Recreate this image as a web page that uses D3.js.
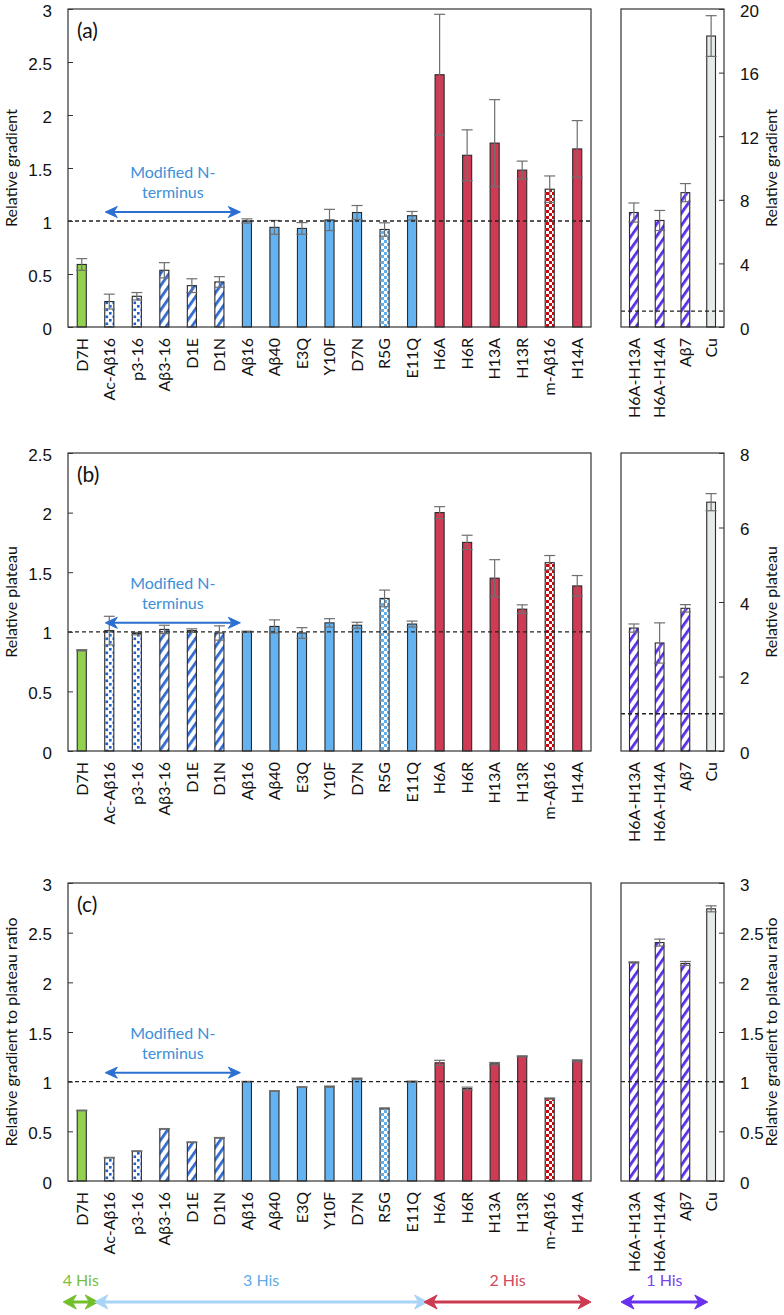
<!DOCTYPE html>
<html>
<head>
<meta charset="utf-8">
<script src="https://cdn.jsdelivr.net/npm/d3@7"></script>
<style>
  html, body { margin: 0; padding: 0; background: #fff; }
  svg { display: block; font-family: Lato, "Open Sans", sans-serif; }
</style>
</head>
<body>
<svg id="chart" width="784" height="1315"></svg>
<script>
// ---------------- DATA ----------------
const categories = ["D7H","Ac-Aβ16","p3-16","Aβ3-16","D1E","D1N","Aβ16","Aβ40","E3Q","Y10F","D7N","R5G","E11Q","H6A","H6R","H13A","H13R","m-Aβ16","H14A"];
const sideCategories = ["H6A-H13A","H6A-H14A","Aβ7","Cu"];

// (a) relative gradient
const gradientMain    = [0.59,0.24,0.29,0.535,0.39,0.425,1.00,0.94,0.93,1.01,1.08,0.92,1.05,2.38,1.62,1.735,1.48,1.30,1.68];
const gradientMainErr = [0.055,0.07,0.035,0.072,0.065,0.05,0.02,0.065,0.055,0.10,0.066,0.063,0.04,0.57,0.24,0.41,0.085,0.125,0.267];
const gradientSide    = [7.2,6.7,8.45,18.3];
const gradientSideErr = [0.6,0.63,0.57,1.28];

// (b) relative plateau
const plateauMain    = [0.845,1.01,0.985,1.02,1.01,0.99,1.00,1.045,0.99,1.075,1.055,1.28,1.065,2.00,1.75,1.45,1.19,1.58,1.385];
const plateauMainErr = [0.005,0.12,0.01,0.035,0.015,0.06,0.005,0.055,0.045,0.035,0.025,0.07,0.025,0.05,0.06,0.155,0.036,0.06,0.087];
const plateauSide    = [3.3,2.9,3.83,6.68];
const plateauSideErr = [0.11,0.54,0.1,0.23];

// (c) relative gradient to plateau ratio
const ratioMain    = [0.71,0.235,0.30,0.525,0.39,0.435,1.00,0.905,0.945,0.95,1.03,0.73,1.00,1.19,0.93,1.18,1.255,0.83,1.21];
const ratioMainErr = [0.003,0.003,0.003,0.003,0.003,0.003,0.003,0.003,0.003,0.006,0.006,0.006,0.006,0.025,0.015,0.013,0.005,0.006,0.01];
const ratioSide    = [2.2,2.4,2.19,2.74];
const ratioSideErr = [0.006,0.035,0.02,0.03];

const leftTicksA  = [0,0.5,1,1.5,2,2.5,3];
const rightTicksA = [0,4,8,12,16,20];
const leftTicksB  = [0,0.5,1,1.5,2,2.5];
const rightTicksB = [0,2,4,6,8];
const leftTicksC  = [0,0.5,1,1.5,2,2.5,3];
const rightTicksC = [0,0.5,1,1.5,2,2.5,3];

const panelLabels = ["(a)","(b)","(c)"];
const yTitles = ["Relative gradient","Relative plateau","Relative gradient to plateau ratio"];

const hisGroups = [
  {label:"4 His", from:"D7H", to:"D7H"},
  {label:"3 His", from:"Ac-Aβ16", to:"E11Q"},
  {label:"2 His", from:"H6A", to:"H14A"},
  {label:"1 His", from:"H6A-H13A", to:"Aβ7"}
];

// ---------------- STYLE ----------------
const C = {
  green:"#92d050", blue:"#65b2f0", red:"#cf3b54", grey:"#e6eaea",
  dotBlue:"#1f5fc8", stripeBlue:"#2f6ad0", checkBlue:"#5fb0f0",
  checkRed:"#c80a10", purple:"#5b2ee6"
};
const fillStyle = {
  "D7H":"green","Ac-Aβ16":"url(#dots)","p3-16":"url(#dots)","Aβ3-16":"url(#stripesBlue)","D1E":"url(#stripesBlue)","D1N":"url(#stripesBlue)",
  "Aβ16":"blue","Aβ40":"blue","E3Q":"blue","Y10F":"blue","D7N":"blue","R5G":"url(#checkBlue)","E11Q":"blue",
  "H6A":"red","H6R":"red","H13A":"red","H13R":"red","m-Aβ16":"url(#checkRed)","H14A":"red",
  "H6A-H13A":"url(#stripesPurple)","H6A-H14A":"url(#stripesPurple)","Aβ7":"url(#stripesPurple)","Cu":"grey"
};
function fillOf(name){ const f = fillStyle[name]; return C[f] || f; }

const svg = d3.select("#chart");
const defs = svg.append("defs");

(function(){
  const p = defs.append("pattern").attr("id","dots").attr("patternUnits","userSpaceOnUse").attr("width",7).attr("height",7);
  p.append("rect").attr("width",7).attr("height",7).attr("fill","#fff");
  p.append("rect").attr("x",0.5).attr("y",0.5).attr("width",2.6).attr("height",2.6).attr("fill",C.dotBlue);
  p.append("rect").attr("x",4).attr("y",4).attr("width",2.6).attr("height",2.6).attr("fill",C.dotBlue);
})();
function stripes(id,color){
  const p = defs.append("pattern").attr("id",id).attr("patternUnits","userSpaceOnUse")
    .attr("width",7).attr("height",7).attr("patternTransform","rotate(35)");
  p.append("rect").attr("width",7).attr("height",7).attr("fill","#fff");
  p.append("rect").attr("x",0).attr("width",2.8).attr("height",7).attr("fill",color);
}
stripes("stripesBlue",C.stripeBlue);
stripes("stripesPurple",C.purple);
function checker(id,color){
  const p = defs.append("pattern").attr("id",id).attr("patternUnits","userSpaceOnUse").attr("width",6).attr("height",6);
  p.append("rect").attr("width",6).attr("height",6).attr("fill","#fff");
  p.append("rect").attr("x",0).attr("y",0).attr("width",3).attr("height",3).attr("fill",color);
  p.append("rect").attr("x",3).attr("y",3).attr("width",3).attr("height",3).attr("fill",color);
}
checker("checkBlue",C.checkBlue);
checker("checkRed",C.checkRed);

// ---------------- LAYOUT ----------------
const mainX0 = 68, mainX1 = 591, sideX0 = 621, sideX1 = 724;
const panels = [
  {top:9,   bottom:327,  leftMax:3,   rightMax:20, leftTicks:leftTicksA, rightTicks:rightTicksA,
   main:gradientMain, mainErr:gradientMainErr, side:gradientSide, sideErr:gradientSideErr},
  {top:453, bottom:751,  leftMax:2.5, rightMax:8,  leftTicks:leftTicksB, rightTicks:rightTicksB,
   main:plateauMain, mainErr:plateauMainErr, side:plateauSide, sideErr:plateauSideErr},
  {top:883, bottom:1181, leftMax:3,   rightMax:3,  leftTicks:leftTicksC, rightTicks:rightTicksC,
   main:ratioMain, mainErr:ratioMainErr, side:ratioSide, sideErr:ratioSideErr}
];

const xMain = d3.scaleBand().domain(categories).range([mainX0,mainX1]).paddingInner(0.67).paddingOuter(0.335);
const xSide = d3.scaleBand().domain(sideCategories).range([sideX0,sideX1]).paddingInner(0.66).paddingOuter(0.33);

const FONT = 16;

function drawArrow(g, x0, x1, y, color, sw, hl, hw){
  g.append("line").attr("x1",x0+3).attr("x2",x1-3).attr("y1",y).attr("y2",y).attr("stroke",color).attr("stroke-width",sw);
  g.append("path").attr("d",`M${x0},${y} L${x0+hl},${y-hw} L${x0+hl*0.7},${y} L${x0+hl},${y+hw} Z`).attr("fill",color).attr("stroke",color).attr("stroke-width",1).attr("stroke-linejoin","round");
  g.append("path").attr("d",`M${x1},${y} L${x1-hl},${y-hw} L${x1-hl*0.7},${y} L${x1-hl},${y+hw} Z`).attr("fill",color).attr("stroke",color).attr("stroke-width",1).attr("stroke-linejoin","round");
}

panels.forEach((P,pi)=>{
  const g = svg.append("g");
  const yL = d3.scaleLinear().domain([0,P.leftMax]).range([P.bottom,P.top]);
  const yR = d3.scaleLinear().domain([0,P.rightMax]).range([P.bottom,P.top]);

  function drawBars(cats, vals, errs, x, y){
    const gb = g.append("g");
    cats.forEach((c,i)=>{
      gb.append("rect")
        .attr("x",x(c)).attr("width",x.bandwidth())
        .attr("y",y(vals[i])).attr("height",y(0)-y(vals[i]))
        .attr("fill",fillOf(c)).attr("stroke","#2a2a2a").attr("stroke-width",1.1);
    });
    cats.forEach((c,i)=>{
      const cx = x(c)+x.bandwidth()/2, hw = 5.5;
      const lo = y(vals[i]-errs[i]), hi = y(vals[i]+errs[i]);
      gb.append("line").attr("x1",cx).attr("x2",cx).attr("y1",lo).attr("y2",hi).attr("stroke","#6f6f6f").attr("stroke-width",1.2);
      [lo,hi].forEach(yy=>gb.append("line").attr("x1",cx-hw).attr("x2",cx+hw).attr("y1",yy).attr("y2",yy).attr("stroke","#6f6f6f").attr("stroke-width",1.2));
    });
  }
  drawBars(categories,P.main,P.mainErr,xMain,yL);
  drawBars(sideCategories,P.side,P.sideErr,xSide,yR);

  g.append("line").attr("x1",mainX0).attr("x2",mainX1).attr("y1",yL(1)).attr("y2",yL(1))
    .attr("stroke","#222").attr("stroke-width",1.3).attr("stroke-dasharray","4,3");
  g.append("line").attr("x1",sideX0).attr("x2",sideX1).attr("y1",yR(1)).attr("y2",yR(1))
    .attr("stroke","#222").attr("stroke-width",1.3).attr("stroke-dasharray","4,3");

  g.append("rect").attr("x",mainX0).attr("y",P.top).attr("width",mainX1-mainX0).attr("height",P.bottom-P.top)
    .attr("fill","none").attr("stroke","#333").attr("stroke-width",1.2);
  g.append("rect").attr("x",sideX0).attr("y",P.top).attr("width",sideX1-sideX0).attr("height",P.bottom-P.top)
    .attr("fill","none").attr("stroke","#333").attr("stroke-width",1.2);

  const axL = g.append("g").attr("transform",`translate(${mainX0},0)`)
    .call(d3.axisRight(yL).tickValues(P.leftTicks).tickSize(5).tickFormat(d=>d3.format("")(d)));
  axL.select(".domain").remove();
  axL.selectAll("line").attr("stroke","#333");
  axL.selectAll("text").attr("x",-16).attr("dy","0.42em").attr("text-anchor","end").style("font-size","17px").attr("fill","#111");

  const axR = g.append("g").attr("transform",`translate(${sideX1},0)`)
    .call(d3.axisLeft(yR).tickValues(P.rightTicks).tickSize(5).tickFormat(d=>d3.format("")(d)));
  axR.select(".domain").remove();
  axR.selectAll("line").attr("stroke","#333");
  axR.selectAll("text").attr("x",16).attr("dy","0.42em").attr("text-anchor","start").style("font-size","17px").attr("fill","#111");

  function catLabels(cats,x){
    cats.forEach(c=>{
      const cx = x(c)+x.bandwidth()/2, yy = P.bottom+11;
      g.append("text").attr("transform",`translate(${cx},${yy}) rotate(-90)`)
        .attr("text-anchor","end").attr("dy","0.36em")
        .style("font-size",FONT+"px").attr("fill","#111").text(c);
    });
  }
  catLabels(categories,xMain);
  catLabels(sideCategories,xSide);

  g.append("text").attr("x",77).attr("y",P.top+29).style("font-size","21px").attr("fill","#111").text(panelLabels[pi]);

  const mid = (P.top+P.bottom)/2;
  g.append("text").attr("transform",`translate(11,${mid}) rotate(-90)`).attr("text-anchor","middle").attr("dy","0.36em")
    .style("font-size",FONT+"px").attr("fill","#111").text(yTitles[pi]);
  g.append("text").attr("transform",`translate(771,${mid}) rotate(-90)`).attr("text-anchor","middle").attr("dy","0.36em")
    .style("font-size",FONT+"px").attr("fill","#111").text(yTitles[pi]);

  const ay = yL(1) - 9;
  const ax0 = xMain("Ac-Aβ16") + xMain.bandwidth()/2 - 4, ax1 = xMain("Aβ16") - 2;
  g.append("text").attr("x",(ax0+ax1)/2).attr("y",ay-34).attr("text-anchor","middle").style("font-size",FONT+"px").attr("fill","#3d8fd8").text("Modified N-");
  g.append("text").attr("x",(ax0+ax1)/2).attr("y",ay-14).attr("text-anchor","middle").style("font-size",FONT+"px").attr("fill","#3d8fd8").text("terminus");
  drawArrow(g, ax0, ax1, ay, "#2b6fd1", 2, 12, 5.5);
});

const hisColors = [
  {text:"#7ac03a", line:"#72bf2c"},
  {text:"#5fabe8", line:"#a8d4f7"},
  {text:"#d04a5e", line:"#cc3a50"},
  {text:"#7a44f0", line:"#6a30f0"}
];
const gh = svg.append("g");
const arrowY = 1302;
hisGroups.forEach((h,i)=>{
  const scaleFor = n => categories.includes(n) ? xMain : xSide;
  const sx0 = scaleFor(h.from), sx1 = scaleFor(h.to);
  let x0, x1;
  if (i===0){ x0 = sx0(h.from) - 14; x1 = sx1(h.to)+sx1.bandwidth()+12; }
  else if (i===1){ x0 = sx0(h.from) - 10; x1 = sx1(h.to)+sx1.bandwidth()+11; }
  else if (i===2){ x0 = sx0(h.from) - 11; x1 = mainX1; }
  else { x0 = sideX0; x1 = sx1(h.to)+sx1.bandwidth()+18; }
  drawArrow(gh, x0, x1, arrowY, hisColors[i].line, 3, 13, 7);
  gh.append("text").attr("x",(x0+x1)/2).attr("y",arrowY-16).attr("text-anchor","middle")
    .style("font-size",FONT+"px").attr("fill",hisColors[i].text).text(h.label);
});
</script>
</body>
</html>
